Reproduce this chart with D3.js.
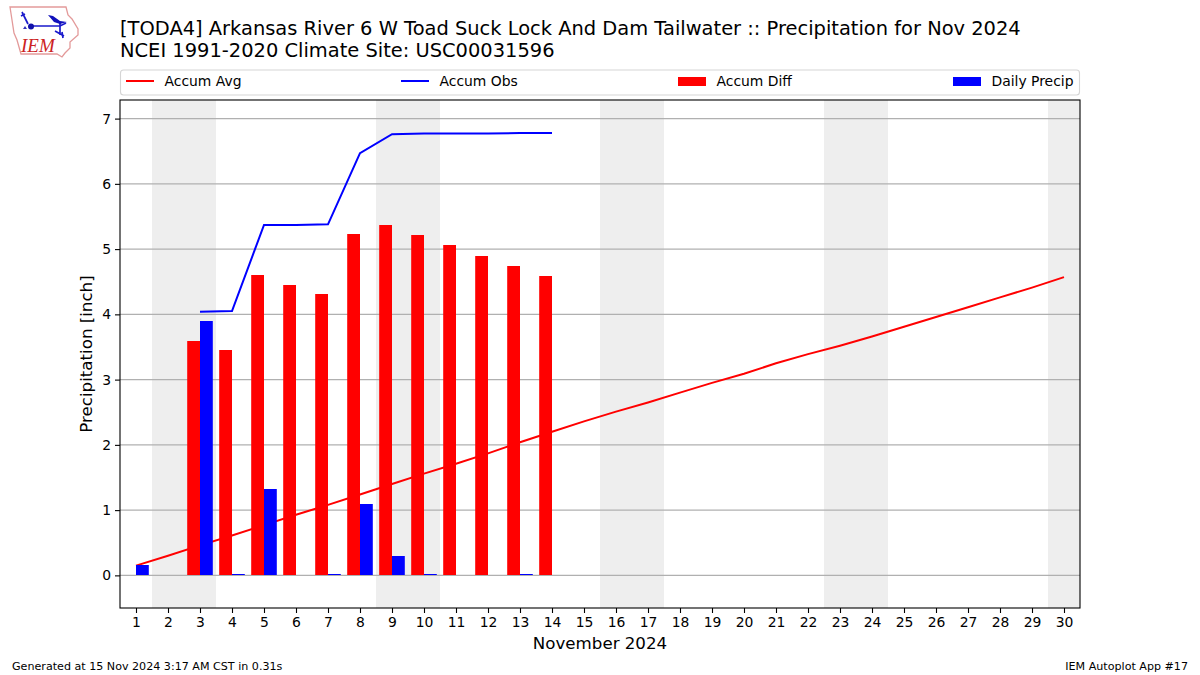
<!DOCTYPE html>
<html>
<head>
<meta charset="utf-8">
<script src="https://cdn.jsdelivr.net/npm/d3@7"></script>
<style>
html, body { margin: 0; padding: 0; background: #fff; }
svg { display: block; }
text { font-family: "DejaVu Sans", sans-serif; fill: #000; }
</style>
</head>
<body>
<div id="chart"></div>
<script>
const days = d3.range(1, 31);
const accumAvg = [0.15, 0.30, 0.46, 0.61, 0.77, 0.93, 1.08, 1.24, 1.40, 1.56, 1.71, 1.87, 2.04, 2.20, 2.36,
    2.51, 2.65, 2.80, 2.95, 3.09, 3.25, 3.39, 3.52, 3.66, 3.81, 3.96, 4.11, 4.26, 4.41, 4.57];
const obsDays = [3, 4, 5, 6, 7, 8, 9, 10, 11, 12, 13, 14];
const accumObs = [4.04, 4.05, 5.37, 5.37, 5.38, 6.47, 6.76, 6.77, 6.77, 6.77, 6.78, 6.78];
const accumDiff = [3.58, 3.44, 4.60, 4.44, 4.30, 5.22, 5.36, 5.21, 5.06, 4.89, 4.74, 4.58];
const precipDays = [1, 3, 4, 5, 7, 8, 9, 10, 13];
const dailyPrecip = [0.15, 3.89, 0.01, 1.32, 0.01, 1.09, 0.29, 0.01, 0.01];
const weekends = [[1.5, 3.5], [8.5, 10.5], [15.5, 17.5], [22.5, 24.5], [29.5, 30.5]];
const yTicks = [0, 1, 2, 3, 4, 5, 6, 7];
const legendItems = [
    { label: "Accum Avg", color: "#ff0000", type: "line" },
    { label: "Accum Obs", color: "#0000ff", type: "line" },
    { label: "Accum Diff", color: "#ff0000", type: "bar" },
    { label: "Daily Precip", color: "#0000ff", type: "bar" }
];

const width = 1200, height = 675;
const margin = { top: 100, right: 120, bottom: 67, left: 120 };
const barWidth = 0.4;

const svg = d3.select("#chart").append("svg")
    .attr("width", width)
    .attr("height", height);

const x = d3.scaleLinear().domain([0.5, 30.5]).range([margin.left, width - margin.right]);
const y = d3.scaleLinear().domain([-0.5, 7.285]).range([height - margin.bottom, margin.top]);

// weekend bands
svg.append("g").selectAll("rect")
    .data(weekends)
    .enter().append("rect")
    .attr("x", d => x(d[0]))
    .attr("y", margin.top)
    .attr("width", d => x(d[1]) - x(d[0]))
    .attr("height", height - margin.bottom - margin.top)
    .attr("fill", "#eeeeee");

// grid
svg.append("g").selectAll("line")
    .data(yTicks)
    .enter().append("line")
    .attr("x1", margin.left)
    .attr("x2", width - margin.right)
    .attr("y1", d => y(d))
    .attr("y2", d => y(d))
    .attr("stroke", "#b0b0b0")
    .attr("stroke-width", 1.1);

const line = d3.line().x(d => x(d[0])).y(d => y(d[1]));

svg.append("path")
    .attr("d", line(days.map((d, i) => [d, accumAvg[i]])))
    .attr("fill", "none")
    .attr("stroke", "#ff0000")
    .attr("stroke-width", 2);

svg.append("path")
    .attr("d", line(obsDays.map((d, i) => [d, accumObs[i]])))
    .attr("fill", "none")
    .attr("stroke", "#0000ff")
    .attr("stroke-width", 2);

// bars snap to whole pixels, tiny values still show one pixel
const barTop = v => Math.min(Math.floor(y(v)), Math.round(y(0)) - 1);
const barHeight = v => Math.round(y(0)) - barTop(v);

svg.append("g").selectAll("rect")
    .data(obsDays.map((d, i) => [d, accumDiff[i]]))
    .enter().append("rect")
    .attr("x", d => x(d[0] - barWidth))
    .attr("y", d => barTop(d[1]))
    .attr("width", x(barWidth) - x(0))
    .attr("height", d => barHeight(d[1]))
    .attr("fill", "#ff0000");

svg.append("g").selectAll("rect")
    .data(precipDays.map((d, i) => [d, dailyPrecip[i]]))
    .enter().append("rect")
    .attr("x", d => x(d[0]))
    .attr("y", d => barTop(d[1]))
    .attr("width", x(barWidth) - x(0))
    .attr("height", d => barHeight(d[1]))
    .attr("fill", "#0000ff");

// axes
const xAxis = svg.append("g")
    .attr("transform", `translate(0,${height - margin.bottom})`)
    .call(d3.axisBottom(x).tickValues(days).tickFormat(d3.format("d")).tickSize(5).tickPadding(4));
const yAxis = svg.append("g")
    .attr("transform", `translate(${margin.left},0)`)
    .call(d3.axisLeft(y).tickValues(yTicks).tickFormat(d3.format("d")).tickSize(5).tickPadding(4));
[xAxis, yAxis].forEach(a => {
    a.selectAll("text").style("font-size", "13.9px").style("font-family", '"DejaVu Sans"');
    a.selectAll("line").attr("stroke", "#000").attr("stroke-width", 1.1);
    a.select(".domain").remove();
});

svg.append("rect")
    .attr("x", margin.left)
    .attr("y", margin.top)
    .attr("width", width - margin.left - margin.right)
    .attr("height", height - margin.top - margin.bottom)
    .attr("fill", "none")
    .attr("stroke", "#000")
    .attr("stroke-width", 1.1);

// axis labels
svg.append("text")
    .attr("x", (margin.left + width - margin.right) / 2)
    .attr("y", 649)
    .attr("text-anchor", "middle")
    .style("font-size", "16.67px")
    .text("November 2024");

svg.append("text")
    .attr("transform", `translate(92,${(margin.top + height - margin.bottom) / 2}) rotate(-90)`)
    .attr("text-anchor", "middle")
    .style("font-size", "16.67px")
    .text("Precipitation [inch]");

// title
svg.append("text").attr("x", 120).attr("y", 35)
    .style("font-size", "19.44px")
    .text("[TODA4] Arkansas River 6 W Toad Suck Lock And Dam Tailwater :: Precipitation for Nov 2024");
svg.append("text").attr("x", 120).attr("y", 57)
    .style("font-size", "19.44px")
    .text("NCEI 1991-2020 Climate Site: USC00031596");

// legend
svg.append("rect")
    .attr("x", 120.5).attr("y", 70)
    .attr("width", 959).attr("height", 25)
    .attr("rx", 3)
    .attr("fill", "#fff")
    .attr("stroke", "#d5d5d5")
    .attr("stroke-width", 1.1);

const legendX = [126, 401, 678, 953];
legendItems.forEach((item, i) => {
    const g = svg.append("g").attr("transform", `translate(${legendX[i]},0)`);
    if (item.type === "line") {
        g.append("line")
            .attr("x1", 0).attr("x2", 28)
            .attr("y1", 81).attr("y2", 81)
            .attr("stroke", item.color)
            .attr("stroke-width", 2);
    } else {
        g.append("rect")
            .attr("x", 0).attr("y", 77)
            .attr("width", 28).attr("height", 9)
            .attr("fill", item.color);
    }
    g.append("text")
        .attr("x", 38.5)
        .attr("y", 86)
        .style("font-size", "13.9px")
        .text(item.label);
});

// footer
svg.append("text").attr("x", 12).attr("y", 670)
    .style("font-size", "11.11px")
    .text("Generated at 15 Nov 2024 3:17 AM CST in 0.31s");
svg.append("text").attr("x", 1188).attr("y", 670)
    .attr("text-anchor", "end")
    .style("font-size", "11.11px")
    .text("IEM Autoplot App #17");

// IEM logo
const logo = svg.append("g");
logo.append("path")
    .attr("d", "M10,7 L66,7 L68,15 L72,19 L78,29 L78,35 L70,42 L70,48 L65,53 L62,57 L57,54 L21,54 L17,40 L14,33 L12,20 Z")
    .attr("fill", "#fff")
    .attr("stroke", "#e39a9a")
    .attr("stroke-width", 1.3);
logo.append("path")
    .attr("d", "M22,12 L28,24 M21,16 L25,14 M31,26 L60,26 L66,23 M60,22 L60,35 M55,31 L64,36 M62,32 L63,38")
    .attr("fill", "none")
    .attr("stroke", "#1a1acc")
    .attr("stroke-width", 1.7);
logo.append("path")
    .attr("d", "M48,15 L53,16 L60,21 L67,22 L60,24 L54,22 Z")
    .attr("fill", "#1111bb");
logo.append("circle").attr("cx", 31).attr("cy", 26.5).attr("r", 3).attr("fill", "#1111aa");
logo.append("path")
    .attr("d", "M23,29 L25,26 L27,29 Z")
    .attr("fill", "#3333bb");
logo.append("text")
    .attr("x", 21).attr("y", 52)
    .style("font-family", '"Liberation Serif", serif')
    .style("font-style", "italic")
    .style("font-size", "19px")
    .style("fill", "#cc2222")
    .text("IEM");
</script>
</body>
</html>
